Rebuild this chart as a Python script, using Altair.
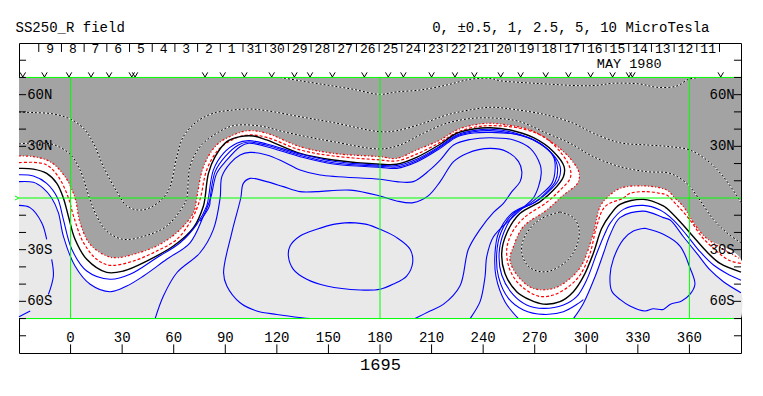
import altair as alt
import pandas as pd

# ---------- contour values: (longitude, latitude) ----------
dot_top = [(121.9,70),(133.5,68.1),(149,65.6),(164.5,63.1),(180,60.2),(189.7,61.6),(203.3,62.7),(218.8,65.6),(232.4,68.9),(244,69.5),(249.8,68.1),(263.4,67),(277,66.2),(296.3,65.2),(306,65.4),(315.7,66.6),(331.2,66.2),(340.9,64.3),(352.6,65),(359.4,68.9),(365.2,69.9)]
dot_high = [(-30,49.9),(-21.6,49.6),(-10,48.8),(-0.3,45.9),(7.5,40.5),(13.3,31.8),(19.1,18.2),(26.9,3.7),(32.7,-4.6),(39.5,-7),(46.3,-5.6),(54,0.2),(57.9,6.6),(61.8,24),(65.6,35.6),(73.4,44.3),(83.1,49.2),(94.7,51.1),(104.4,51.7),(114.1,50.7),(133.5,47.2),(152.9,43.8),(180,38.5),(189.7,39.1),(205.2,43.4),(218.8,48.2),(234.3,51.5),(245,52.7),(257.6,51.5),(277,48.2),(292.5,43.4),(304.1,37.6),(319.6,32.1),(335.1,30.8),(348.7,29.8),(360.1,27.9),(370,22.1),(379.7,12.4),(388.4,0),(390,-2.7)]
dot_low = [(-30,31.4),(-24.5,31.8),(-10,31),(-0.3,25.4),(5.5,16.3),(11,0),(15.2,-10.5),(21,-19.2),(30.7,-24),(44.3,-21.7),(55.9,-16.3),(65.6,-4.6),(67.6,0),(69.5,18.2),(75.3,29.8),(85,37.6),(94.7,42),(110.2,41.8),(123.8,38.5),(137.4,35.6),(152.9,32.7),(180,28.5),(191.6,30.8),(205.2,37.6),(218.8,43.4),(234.3,46.3),(247.9,46.3),(261.4,44.3),(277,37.6),(290.5,31.8),(304.1,24),(319.6,18.2),(335.1,15.3),(348.7,14.3),(358.4,8.5),(365.2,0),(373.9,-12.4),(381.7,-20.1),(388.4,-25),(390,-26)]
dot_island = [(284.7,-8.1),(292.5,-11.4),(295.8,-18.2),(294.4,-27.9),(288.6,-36.6),(277,-42.8),(267.3,-40.5),(262.4,-31.8),(264.3,-22.1),(273.1,-12.4),(284.7,-8.1)]

red_outer = [(-30,24.4),(-21.6,24),(-11.9,21.1),(-3.2,12.4),(2.6,0),(5.5,-14.3),(11.4,-26.9),(21,-33.7),(26.9,-34.7),(36.6,-32.7),(50.1,-27.9),(61.8,-20.1),(71.5,-8.5),(73.4,0),(77.3,18.2),(85,30.8),(94.7,36.6),(103.5,39.1),(114.1,37.6),(133.5,29.8),(152.9,25.9),(180,24),(189.7,23),(201.3,27.9),(215,33.7),(224.7,39.5),(234.4,42.4),(244.1,43.4),(253.8,42.4),(267.4,39.5),(280.9,31.7),(290.6,23),(295.9,14.3),(294.9,8.5),(286.7,1.7),(277,-7),(263.4,-16.6),(257.6,-28.3),(255.6,-36),(260.5,-45.7),(269.2,-52.5),(280.9,-52.5),(290.6,-46.7),(297.3,-39),(304.1,-20.5),(308,-5),(311.9,0),(319.6,5.6),(334.1,7),(346.8,4.6),(351.6,0),(356.5,-5),(363.3,-15.7),(370,-23.4),(390,-35.5)]
red_inner = [(-30,20.5),(-21.6,20.7),(-13.9,19.2),(-7.1,12.4),(-1.2,0),(1.7,-10.5),(7.5,-25.9),(15.2,-35.6),(23,-39.1),(36.6,-36.6),(50.1,-30.8),(61.8,-24),(70.5,-12.4),(75.3,-0.8),(79.2,16.3),(85.9,27.9),(94.7,34.1),(103.5,36.6),(114.1,35.2),(133.5,27.9),(152.9,24.4),(180,22.1),(189.7,21.5),(201.3,25.5),(215,32.3),(224.7,38.1),(234.4,41),(244.1,42),(261.5,40.5),(275.1,35.6),(284.8,26.9),(290.6,17.2),(290.6,11.4),(284.8,4.6),(277,-2.5),(263.4,-11.8),(256.6,-20.5),(253.7,-30.2),(255.6,-41.8),(261.5,-50.5),(272.1,-57),(280.9,-56.3),(289.6,-51.5),(296.4,-44.7),(302.2,-32.1),(306,-16.6),(310.9,-5),(321.6,0),(325.4,2.7),(335.1,3.7),(342.9,2.7),(346.8,1.7),(352.6,-4),(360.4,-12.8),(367.2,-22.5),(374,-29.2),(382.7,-36),(390,-38)]
black_zero = [(-30,17.2),(-21.6,16.8),(-13.9,14.3),(-8,8.5),(-4.2,0),(-1.3,-10.5),(2.6,-24),(9.4,-35.6),(21,-43.2),(30.7,-42.4),(44.3,-36.6),(59.8,-27.9),(71.5,-17.2),(77.3,-4.6),(78.2,0),(80.2,14.3),(84.1,24),(90.9,32.7),(98.6,35.6),(106.4,36),(114.1,33.7),(133.5,25.9),(152.9,22.1),(180,19.6),(189.7,19.6),(201.3,23.6),(215,31.2),(224.7,37.6),(234.4,40.1),(244.1,40.8),(255.7,39.5),(269.3,35),(280.9,26.9),(287.1,18.2),(286.7,12.4),(280.9,4.6),(273.2,-2.1),(261.5,-8.9),(253.7,-20.5),(250.8,-32.1),(252.7,-43.8),(259.5,-54.4),(267.3,-59.2),(275,-61.6),(284.7,-60.2),(292.5,-54.4),(298.3,-45.7),(304.1,-32.1),(309,-17.6),(313.8,-9.9),(319.6,-3.7),(333.2,-0.8),(344.8,-4.6),(346.8,-6),(354.6,-13.8),(362.3,-22.5),(370.1,-31.2),(377.8,-38),(390,-43)]
blue_a = [(-30,13.5),(-21.6,12.8),(-13.9,8.5),(-7.6,0),(-4.2,-12.4),(0.7,-29.8),(9.4,-42.4),(23,-47.2),(34.6,-44.3),(50.1,-34.7),(63.7,-26),(73.4,-15.3),(79.2,-4.6),(80.2,0),(83.1,16.3),(88.9,25.9),(96.7,31.8),(103.5,33.3),(114.1,31.4),(133.5,25.6),(152.9,21.3),(180,19),(189.7,18.8),(201.3,22.5),(215,30.2),(224.7,36.6),(234.4,39.1),(244.1,39.9),(255.7,38.5),(269.3,33.7),(280,25.9),(284.8,18.2),(283.8,10.4),(277,2.7),(270.3,-2.5),(259.5,-8),(252.2,-19.6),(249.3,-32.1),(250.8,-44.7),(257.6,-56.3),(265.3,-62.1),(275,-64.1),(286.7,-62.1),(294.4,-57.3),(300.2,-47.6),(306.1,-32.1),(310.9,-20.5),(313.8,-14.7),(321.6,-6.6),(333.2,-4.3),(342.9,-7),(350.7,-12.8),(358.4,-21.5),(366.2,-31.2),(374,-38.9),(381.7,-43.8),(390,-47.8)]
blue_b = [(75.3,-13.4),(80.8,-4.6),(81.2,0),(84.1,15.3),(89.9,24),(97.6,30.8),(103.5,32.5),(114.1,30.6),(133.5,24.8),(152.9,20.5),(180,18.4),(189.7,18),(201.3,21.7),(215,29.6),(224.7,36),(234.4,38.5),(244.1,39.1),(255.7,37.7),(271.2,32.7),(280.5,25),(283.3,17.2),(281.9,9.5),(275.1,1.7),(268.9,-3.1),(257.6,-8.9),(250.2,-20.5),(247.9,-32.1),(248.9,-45.7),(254.7,-58.3),(263.4,-65),(275,-67.6),(286.7,-66),(295.4,-61.2),(298.3,-59)]
white_edge_left = [(-30,9.5),(-21.6,9.1),(-15.8,5.6),(-11,0),(-7.1,-8.5),(-4.2,-22.1),(2.6,-39.5),(11.4,-50.1),(23,-54.4),(32.7,-51.1),(42.4,-45.3),(55.9,-35.6),(69.5,-26),(77.3,-10.5),(81.5,0),(85,14.3),(90.9,22.1),(98.6,29.8),(103.5,31.8),(114.1,29.8),(133.5,24),(152.9,19.7),(180,17.8),(189.7,17.2),(201.3,20.9),(215,28.8),(224.7,35.4),(234.4,37.7),(244.1,38.1),(261.5,36.6),(273.2,31.7),(280.9,24),(281.9,17.2),(280,8.5),(272.2,0.8),(267.4,-3.1),(256.6,-8.9),(248.9,-20.5),(246.9,-32.1),(247.5,-45.7),(252.7,-60.2),(260.5,-70)]
white_edge_right = [(292.5,-70),(298.3,-61.2),(305.1,-45.7),(310,-32.1),(313.8,-21.5),(319.6,-11.4),(333.2,-7.6),(344.8,-11.4),(348.8,-12.8),(356.5,-22.5),(364.3,-32.1),(372,-41.8),(379.8,-48.6),(390,-55)]
blue_c = [(49.2,-70),(54,-56.9),(61.8,-43.4),(75.3,-31.8),(83.1,-18.2),(87,0),(88,12.4),(92.8,20.1),(98.6,25),(104.4,26.5),(114.1,25),(123.8,21.1),(133.5,16.3),(145.1,13.4),(180,10.9),(189.7,9.5),(199.4,9.5),(209,16.3),(215,22),(222.8,30.8),(232.5,34),(244.1,35),(257.7,33.7),(267.4,28.8),(273.2,19.2),(273.8,14.3),(272.2,6.6),(269.2,0),(264,-5),(257.6,-10.8),(246,-22.5),(242.1,-34.1),(241.1,-45.7),(238.2,-60.2),(232.4,-70)]
blue_d = [(139.3,-70),(134.5,-69.5),(120,-67.6),(108.3,-65.6),(98.6,-60.8),(90.9,-51.1),(89,-43.4),(93.8,-20.1),(99,0),(100.5,8.5),(104.4,11.4),(114.1,9.5),(123.8,6.6),(133.5,3.7),(143.2,3.7),(162.6,4.6),(180,1.2),(189.7,-1.7),(199.4,-2.7),(208,1.2),(215,9.5),(222.8,21.1),(230.5,25.9),(244.1,28.8),(253.8,26.9),(260.6,21.1),(262.5,15.3),(261.5,9.5),(256.7,3.7),(251.8,-3.1),(245.9,-8.5),(238.2,-18.2),(231.4,-29.8),(226.5,-51.1),(216.8,-61.8),(209.1,-65.6),(200.4,-70)]
blue_island_a = [(162.6,-14.3),(152.9,-15.3),(143.2,-18.2),(133.5,-22.1),(127.7,-27.9),(126.7,-33.7),(129.6,-41.4),(137.4,-47.2),(149,-51.1),(168.4,-53.4),(180,-53),(187.8,-50),(195.5,-45.3),(199,-37.6),(197.5,-29.8),(189.7,-23),(180,-18.2),(172.3,-15.3),(162.6,-14.3)]
blue_island_b = [(334.1,-17.6),(344.8,-21.1),(354.5,-27.9),(360.3,-40.5),(363.2,-50.1),(360.3,-56),(355.5,-59.8),(348.7,-61.8),(344.8,-64.7),(339,-64.3),(334.1,-65.6),(325.4,-62.7),(319.6,-58.9),(314.8,-54),(313.8,-45.3),(315.7,-35.6),(321.6,-24),(327.4,-19.2),(334.1,-17.6)]
blue_left_1 = [(-30,-4.3),(-23.6,-5.6),(-16.8,-14.3),(-13.9,-24)]
blue_left_2 = [(-11,-35.6),(-10,-45.3),(-12.9,-56)]
blue_left_3 = [(-23.5,-65.6),(-30,-68.9)]

# closures of the shaded regions along the plot's corners (repeats keep the curve from bulging)
corner_right = [(390,-70),(390,-70),(390,-70)]
corner_left = [(-30,-70),(-30,-70),(-30,-70)]
bottom_left_end = [(260.5,-70),(260.5,-70)]
bottom_right_start = [(292.5,-70),(292.5,-70)]

# ---------- axes and annotation values ----------
lon_ticks = [0,30,60,90,120,150,180,210,240,270,300,330,360]
lon_labels = ["0","30","60","90","120","150","180","210","240","270","300","330","360"]
lat_ticks_left = [80,70,60,50,40,30,-10,-20,-30,-40,-50,-60,-70,-80]
lat_ticks_right = [80,70,60,50,40,30,20,10,-10,-20,-30,-40,-50,-60,-70,-80]
lat_labels = ["60N","30N","30S","60S"]
lat_label_vals = [60,30,-30,-60]
day_ticks = [-18.5,-5.3,7.9,21.1,34.3,47.5,60.7,73.9,87.1,100.3,113.5,126.7,139.9,153.1,166.3,179.5,192.7,205.9,219.1,232.3,245.5,258.7,271.9,285.1,298.3,311.5,324.7,337.9,351.1,364.3,377.5]
day_labels = ["9","8","7","6","5","4","3","2","1","31","30","29","28","27","26","25","24","23","22","21","20","19","18","17","16","15","14","13","12","11"]
v_marks = [-27.8,-15.2,-0.9,11.9,22.4,35.6,37.5,78.2,88.5,101.1,117,130.2,139.3,152.3,170.9,184.8,193.6,210,223.6,234.9,250.2,261.8,276.4,289.6,302.5,315.3,324.8,326.8,378.2]
green_lons = [0,180,360]
green_lats = [70,0,-70]

FONT = "Liberation Mono"
xs = alt.Scale(domain=[-30,390], nice=False, zero=False)
ys = alt.Scale(domain=[-90,90], nice=False, zero=False)
X = lambda f="lon": alt.X(f"{f}:Q", scale=xs, axis=None)
Y = lambda f="lat": alt.Y(f"{f}:Q", scale=ys, axis=None)

def frame(points):
    return pd.DataFrame({"lon":[p[0] for p in points], "lat":[p[1] for p in points], "i":list(range(len(points)))})

def curve(points, **kw):
    kw.setdefault("interpolate", "catmull-rom")
    return alt.Chart(frame(points)).mark_line(**kw).encode(x=X(), y=Y(), order=alt.Order("i:Q"))

def region(points, color):
    return curve(points, fill=color, strokeWidth=0, stroke=color)

def text_layer(lons, lats, labels, **kw):
    d = pd.DataFrame({"lon":lons, "lat":lats, "t":labels})
    kw.setdefault("fontSize", 14)
    return alt.Chart(d).mark_text(font=FONT, color="black", **kw).encode(x=X(), y=Y(), text="t:N")

def vticks(lons, a, b, **kw):
    d = pd.DataFrame({"lon":lons, "a":[a]*len(lons), "b":[b]*len(lons)})
    return alt.Chart(d).mark_rule(**kw).encode(x=X(), y=Y("a"), y2="b:Q")

def hticks(lats, a, b, **kw):
    d = pd.DataFrame({"lat":lats, "a":[a]*len(lats), "b":[b]*len(lats)})
    return alt.Chart(d).mark_rule(**kw).encode(y=Y(), x=X("a"), x2="b:Q")

background = alt.Chart(pd.DataFrame({"a":[-30],"b":[390],"c":[-70],"d":[70]})).mark_rect(color="#a3a3a3").encode(
    x=X("a"), x2="b:Q", y=Y("c"), y2="d:Q")

layers = [
    background,
    region(red_outer + corner_right + corner_left, "#ffffff"),
    region(white_edge_left + bottom_left_end + corner_left, "#e9e9e9"),
    region(bottom_right_start + white_edge_right + corner_right, "#e9e9e9"),
]
for pts in [dot_top, dot_high, dot_low, dot_island]:
    layers.append(curve(pts, color="white", strokeWidth=1))
    layers.append(curve(pts, color="black", strokeWidth=1, strokeDash=[2,2]))
layers.append(curve(red_outer, color="#ff0000", strokeWidth=1.2, strokeDash=[2,2,1,2]))
layers.append(curve(red_inner, color="#ff0000", strokeWidth=1.2, strokeDash=[3,2]))
layers.append(curve(black_zero, color="black", strokeWidth=1.4))
for pts in [blue_a, blue_b, white_edge_left, white_edge_right, blue_c, blue_d, blue_island_a, blue_island_b, blue_left_1, blue_left_2, blue_left_3]:
    layers.append(curve(pts, color="#0000ff", strokeWidth=1.1))

layers += [
    hticks(green_lats, -30, 390, color="#00ff00", strokeWidth=1),
    vticks(green_lons, -70, 70, color="#00ff00", strokeWidth=1),
    vticks(lon_ticks, -90, -85, color="black", strokeWidth=1),
    vticks(day_ticks, 90, 84.8, color="black", strokeWidth=1),
    hticks(lat_ticks_left, -30, -25.9, color="black", strokeWidth=1),
    hticks(lat_ticks_right, 390, 385.9, color="black", strokeWidth=1),
    alt.Chart(pd.DataFrame({"lon":v_marks,"lat":[71.6]*len(v_marks)})).mark_point(
        shape="M -1 -0.85 L 0 0.85 L 1 -0.85", size=30, filled=False, color="black", strokeWidth=1, opacity=1
    ).encode(x=X(), y=Y()),
    alt.Chart(pd.DataFrame({"lon":[-31.2],"lat":[0]})).mark_point(
        shape="M -1 -1 L 1 0 L -1 1", size=16, filled=False, color="#00ff00", strokeWidth=1, opacity=1
    ).encode(x=X(), y=Y()),
    text_layer(lon_ticks, [-81.1]*len(lon_ticks), lon_labels),
    text_layer([-17.9]*4, lat_label_vals, lat_labels),
    text_layer([379]*4, lat_label_vals, lat_labels),
    text_layer([t + 6.6 for t in day_ticks[:-1]], [86.3]*len(day_labels), day_labels, fontSize=13),
    text_layer([325], [78], ["MAY 1980"], fontSize=13.5),
    text_layer([-32], [98.7], ["SS250_R field"], align="left"),
    text_layer([291], [98.7], ["0, ±0.5, 1, 2.5, 5, 10 MicroTesla"]),
    text_layer([180.3], [-97], ["1695"], fontSize=17),
]

chart = alt.layer(*layers).properties(
    width=722, height=310,
    padding={"left":11,"top":35,"right":14,"bottom":35},
    autosize=alt.AutoSizeParams(type="none"),
    background="white",
).configure_view(stroke="black", strokeWidth=1, fill="white")

chart.save("out.html", embed_options={"renderer": "svg", "actions": False})
